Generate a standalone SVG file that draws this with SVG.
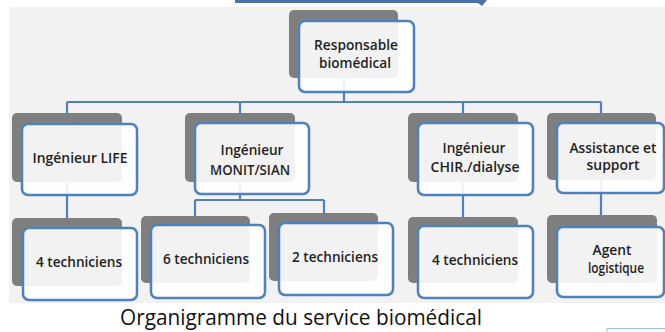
<svg xmlns="http://www.w3.org/2000/svg" width="665" height="332" viewBox="0 0 665 332">
<style>
.shadow{fill:#7f7f7f}
.box{fill:#ffffff;fill-opacity:0.9;stroke:#4f81bd;stroke-width:2.5}
.lbl{font-family:"Open Sans","Liberation Sans",Arial,sans-serif;font-size:13.5px;font-weight:600;fill:#1f1f1f;text-anchor:middle}
.conn{stroke:#4f81bd;stroke-width:2.2;fill:none}
</style>
<rect x="0" y="0" width="665" height="332" fill="#ffffff"/>
<rect x="9" y="7" width="656" height="296" fill="#f2f2f2"/>
<polygon points="235,0 487,0 482,6 478,3 235,3" fill="#4a72a8"/>
<g id="connectors">
<path class="conn" d="M344,78 V102 M67,102 H601 M67,102 V113 M240,102 V113 M463,102 V113 M601,102 V113"/>
<path class="conn" d="M67,182 V218 M240,182 V200 M195,200 H324 M195,200 V216 M324,200 V213 M463,182 V217 M601,180 V215"/>
</g>
<g id="n-responsable">
<rect class="shadow" x="289" y="10" width="109" height="68" rx="5"/>
<rect class="box" x="299" y="21" width="115" height="71" rx="6"/>
<text class="lbl" x="356" y="50" textLength="84" lengthAdjust="spacingAndGlyphs">Responsable</text>
<text class="lbl" x="355" y="68" textLength="72" lengthAdjust="spacingAndGlyphs">biomédical</text>
</g>
<g id="n-life">
<rect class="shadow" x="12" y="113" width="110" height="69" rx="5"/>
<rect class="box" x="22" y="124" width="115" height="71" rx="6"/>
<text class="lbl" x="80" y="163" textLength="95" lengthAdjust="spacingAndGlyphs">Ingénieur LIFE</text>
</g>
<g id="n-monit">
<rect class="shadow" x="185" y="113" width="110" height="69" rx="5"/>
<rect class="box" x="195" y="123" width="114" height="71" rx="6"/>
<text class="lbl" x="252" y="155" textLength="63" lengthAdjust="spacingAndGlyphs">Ingénieur</text>
<text class="lbl" x="250" y="175" textLength="80" lengthAdjust="spacingAndGlyphs">MONIT/SIAN</text>
</g>
<g id="n-chir">
<rect class="shadow" x="408" y="113" width="110" height="69" rx="5"/>
<rect class="box" x="418" y="123" width="115" height="72" rx="6"/>
<text class="lbl" x="474" y="153" textLength="63" lengthAdjust="spacingAndGlyphs">Ingénieur</text>
<text class="lbl" x="475" y="172" textLength="89" lengthAdjust="spacingAndGlyphs">CHIR./dialyse</text>
</g>
<g id="n-assistance">
<rect class="shadow" x="547" y="113" width="109" height="67" rx="5"/>
<rect class="box" x="557" y="123" width="107" height="70" rx="6"/>
<text class="lbl" x="613" y="153" textLength="87" lengthAdjust="spacingAndGlyphs">Assistance et</text>
<text class="lbl" x="613" y="170" textLength="53" lengthAdjust="spacingAndGlyphs">support</text>
</g>
<g id="n-tech4a">
<rect class="shadow" x="12" y="218" width="110" height="68" rx="5"/>
<rect class="box" x="23" y="228" width="114" height="72" rx="6"/>
<text class="lbl" x="79" y="267" textLength="86" lengthAdjust="spacingAndGlyphs">4 techniciens</text>
</g>
<g id="n-tech6">
<rect class="shadow" x="141" y="216" width="109" height="67" rx="5"/>
<rect class="box" x="151" y="225" width="114" height="73" rx="6"/>
<text class="lbl" x="206" y="264" textLength="86" lengthAdjust="spacingAndGlyphs">6 techniciens</text>
</g>
<g id="n-tech2">
<rect class="shadow" x="269" y="213" width="109" height="68" rx="5"/>
<rect class="box" x="279" y="223" width="114" height="72" rx="6"/>
<text class="lbl" x="335" y="262" textLength="86" lengthAdjust="spacingAndGlyphs">2 techniciens</text>
</g>
<g id="n-tech4b">
<rect class="shadow" x="408" y="217" width="110" height="66" rx="5"/>
<rect class="box" x="418" y="226" width="115" height="72" rx="6"/>
<text class="lbl" x="475" y="265" textLength="86" lengthAdjust="spacingAndGlyphs">4 techniciens</text>
</g>
<g id="n-agent">
<rect class="shadow" x="547" y="215" width="110" height="68" rx="5"/>
<rect class="box" x="557" y="227" width="107" height="70" rx="6"/>
<text class="lbl" x="612" y="255" textLength="39" lengthAdjust="spacingAndGlyphs">Agent</text>
<text class="lbl" x="616" y="273" textLength="56" lengthAdjust="spacingAndGlyphs">logistique</text>
</g>
<text x="301" y="325" font-family="'Open Sans','Liberation Sans',Arial,sans-serif" font-size="21" fill="#111111" text-anchor="middle" textLength="362" lengthAdjust="spacingAndGlyphs">Organigramme du service biomédical</text>
<rect x="607" y="328.5" width="62" height="10" fill="none" stroke="#9dc3e6" stroke-width="1"/>
</svg>
